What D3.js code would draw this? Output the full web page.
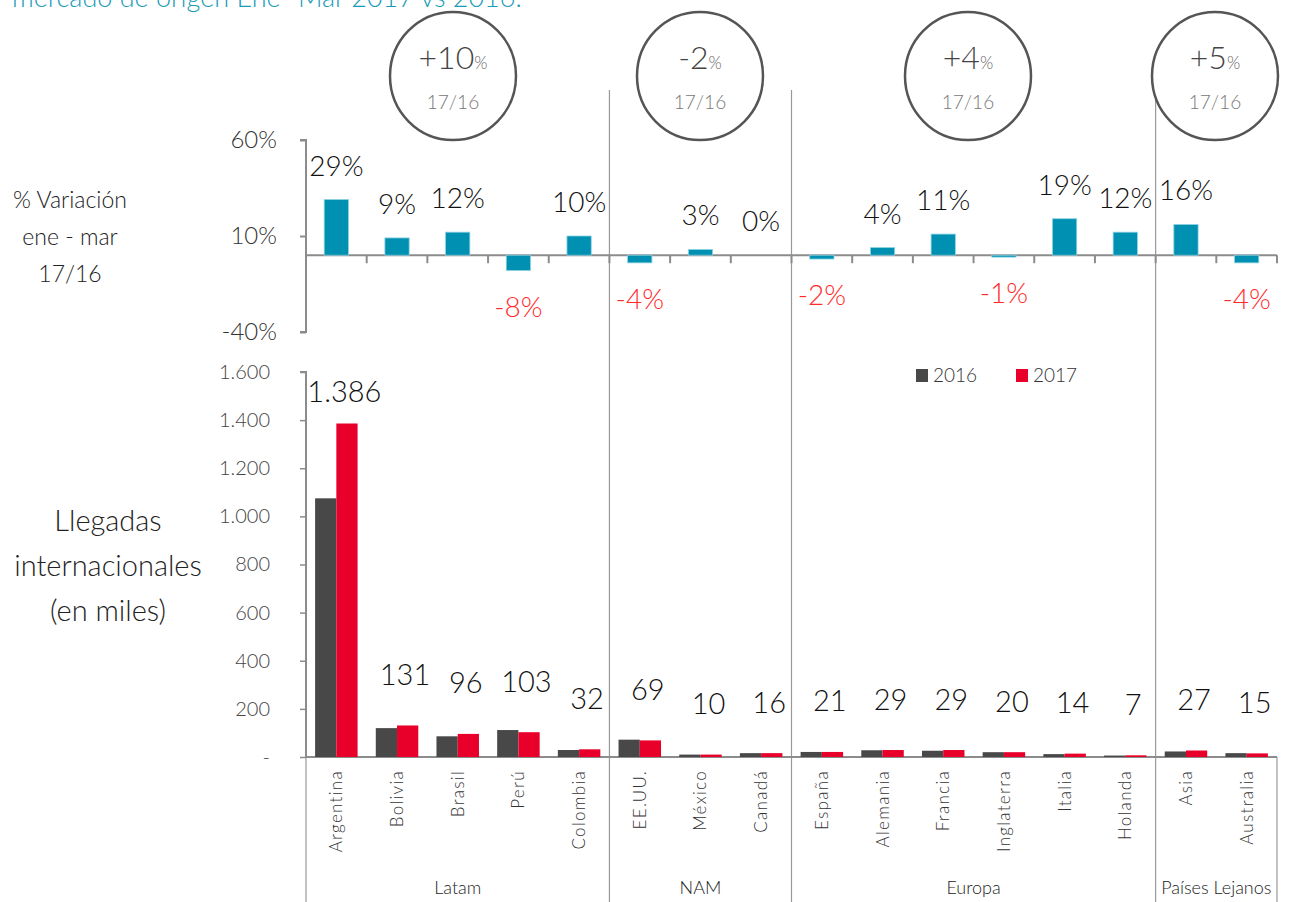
<!DOCTYPE html>
<html><head><meta charset="utf-8">
<script src="https://cdn.jsdelivr.net/npm/d3@7"></script>
<style>
body{margin:0;background:#fff;}
svg{display:block;font-family:Lato,"Open Sans",sans-serif;font-weight:300;}
</style></head>
<body><svg id="c" width="1293" height="902"></svg>
<script>
const categories=["Argentina","Bolivia","Brasil","Perú","Colombia","EE.UU.","México","Canadá","España","Alemania","Francia","Inglaterra","Italia","Holanda","Asia","Australia"];
const groupNames=["Latam","NAM","Europa","Países Lejanos"];
const groupSizes=[5,3,6,2];
const groupVar=["+10","-2","+4","+5"];
const variation=[29,9,12,-8,10,-4,3,0,-2,4,11,-1,19,12,16,-4];
const arrivals2016=[1075,120,86,112,29,72,10,16,21,28,26,20,12,6,23,16];
const arrivals2017=[1386,131,96,103,32,69,10,16,21,29,29,20,14,7,27,15];
const varTicks=[60,10,-40];
const arrTicks=[0,200,400,600,800,1000,1200,1400,1600];
const seriesNames=["2016","2017"];

const svg=d3.select("#c");
const L=306,R=1277;
const x=d3.scaleBand().domain(categories).range([L,R]).padding(0);
const step=x.bandwidth();
const yv=d3.scaleLinear().domain([-40,60]).range([332,140]);
const ya=d3.scaleLinear().domain([0,1600]).range([757,372]);
const axisCol="#8c8c8c";

// title (cut off at top, as in the reference)
svg.append("text").attr("x",12).attr("y",7).attr("font-size",27).attr("fill","#1a9bb7")
  .text("mercado de origen Ene- Mar 2017 vs 2016.");

// group boundaries
let cum=[0];groupSizes.forEach(s=>cum.push(cum[cum.length-1]+s));
const bx=i=>i<categories.length?x(categories[i]):R;
cum.slice(1,-1).forEach(i=>{
  svg.append("line").attr("x1",bx(i)).attr("x2",bx(i)).attr("y1",90).attr("y2",902)
    .attr("stroke","#999").attr("stroke-width",1.2);
});
[0,cum.length-1].forEach(k=>{
  const i=cum[k];
  svg.append("line").attr("x1",bx(i)).attr("x2",bx(i)).attr("y1",757).attr("y2",902)
    .attr("stroke","#999").attr("stroke-width",1.2);
});

// circles
groupNames.forEach((g,k)=>{
  const cx=[453,700,968,1215][k];
  const gg=svg.append("g");
  gg.append("ellipse").attr("cx",cx).attr("cy",76).attr("rx",63).attr("ry",64)
    .attr("fill","#fff").attr("stroke","#555").attr("stroke-width",2.5);
  const t=gg.append("text").attr("x",cx).attr("y",69).attr("text-anchor","middle").attr("fill","#444");
  t.append("tspan").attr("font-size",32).text(groupVar[k]);
  t.append("tspan").attr("font-size",17).attr("fill","#666").text("%");
  gg.append("text").attr("x",cx).attr("y",109).attr("text-anchor","middle").attr("font-size",19)
    .attr("fill","#777").text("17/16");
});

// ---------- top chart ----------
const topAxis=d3.axisLeft(yv).tickValues(varTicks).tickSize(6).tickFormat(d=>d+"%");
const ta=svg.append("g").attr("transform",`translate(${L},0)`).call(topAxis);
ta.select(".domain").attr("stroke",axisCol).attr("stroke-width",2).attr("d",`M-6,${yv(60)}H0V${yv(-40)}H-6`);
ta.selectAll(".tick line").attr("stroke",axisCol).attr("stroke-width",2);
ta.selectAll(".tick text").attr("font-size",24).attr("fill","#333").attr("x",-29)
  .attr("font-family","Lato").attr("font-weight",300);

svg.append("line").attr("x1",L).attr("x2",R).attr("y1",yv(0)).attr("y2",yv(0)).attr("stroke",axisCol).attr("stroke-width",2);
d3.range(categories.length+1).forEach(i=>{
  svg.append("line").attr("x1",bx(i)).attr("x2",bx(i)).attr("y1",yv(0)).attr("y2",yv(0)+8)
    .attr("stroke",axisCol).attr("stroke-width",2);
});
const bwT=step*0.4;
svg.append("g").selectAll("rect").data(categories).join("rect")
  .attr("x",d=>x(d)+(step-bwT)/2).attr("width",bwT)
  .attr("y",(d,i)=>Math.min(yv(variation[i]),yv(0)))
  .attr("height",(d,i)=>Math.abs(yv(variation[i])-yv(0)))
  .attr("fill","#0090b2").attr("stroke","#8fd3e3").attr("stroke-width",0.8);
svg.append("g").selectAll("text").data(categories).join("text")
  .attr("x",d=>x(d)+step/2).attr("text-anchor","middle").attr("font-size",28)
  .attr("dominant-baseline","central")
  .attr("y",(d,i)=>variation[i]>=0?yv(variation[i])-35:yv(variation[i])+35)
  .attr("fill",(d,i)=>variation[i]<0?"#ff2b2b":"#111")
  .text((d,i)=>variation[i]+"%");

const lt=svg.append("text").attr("text-anchor","middle").attr("font-size",23).attr("fill","#222");
["% Variación","ene - mar","17/16"].forEach((s,i)=>lt.append("tspan").attr("x",70).attr("y",208+i*37).text(s));

// ---------- bottom chart ----------
const fmt=d=>d===0?"-":d3.format(",")(d).replace(/,/g,".");
const botAxis=d3.axisLeft(ya).tickValues(arrTicks).tickSize(6).tickFormat(fmt);
const ba=svg.append("g").attr("transform",`translate(${L},0)`).call(botAxis);
ba.select(".domain").attr("stroke",axisCol).attr("stroke-width",2).attr("d",`M-6,${ya(1600)}H0V${ya(0)}`);
ba.selectAll(".tick line").attr("stroke",axisCol).attr("stroke-width",1.5);
ba.selectAll(".tick text").attr("font-size",20).attr("fill","#444").attr("x",-36)
  .attr("font-family","Lato").attr("font-weight",300);
svg.append("line").attr("x1",L).attr("x2",R).attr("y1",ya(0)).attr("y2",ya(0)).attr("stroke",axisCol).attr("stroke-width",2);

const bw=step*0.35;
const colors=["#484848","#e8002a"];
[arrivals2016,arrivals2017].forEach((arr,s)=>{
  svg.append("g").selectAll("rect").data(categories).join("rect")
    .attr("x",d=>x(d)+step/2-bw+s*bw).attr("width",bw)
    .attr("y",(d,i)=>ya(arr[i])).attr("height",(d,i)=>ya(0)-ya(arr[i]))
    .attr("fill",colors[s]);
});
svg.append("g").selectAll("text").data(categories).join("text")
  .attr("x",d=>x(d)+step/2+8).attr("text-anchor","middle").attr("font-size",29)
  .attr("dominant-baseline","central").attr("fill","#111")
  .attr("y",(d,i)=>Math.max(ya(arrivals2017[i])-52,390))
  .text((d,i)=>fmt(arrivals2017[i]));

seriesNames.forEach((n,i)=>{
  const lx=916+i*100;
  svg.append("rect").attr("x",lx).attr("y",369).attr("width",12).attr("height",13).attr("fill",colors[i]);
  svg.append("text").attr("x",lx+17).attr("y",382).attr("font-size",19).attr("fill","#333").text(n);
});

svg.append("g").selectAll("text").data(categories).join("text")
  .attr("transform",d=>`translate(${x(d)+step/2+6},770) rotate(-90)`)
  .attr("text-anchor","end").attr("font-size",17).attr("letter-spacing",1.3).attr("fill","#333")
  .text(d=>d);

groupNames.forEach((g,k)=>{
  const cx=(bx(cum[k])+bx(cum[k+1]))/2;
  svg.append("text").attr("x",cx).attr("y",894).attr("text-anchor","middle").attr("font-size",18)
    .attr("fill","#222").text(g);
});

const lb=svg.append("text").attr("text-anchor","middle").attr("font-size",29).attr("fill","#222");
["Llegadas","internacionales","(en miles)"].forEach((s,i)=>lb.append("tspan").attr("x",108).attr("y",531+i*45).text(s));
</script></body></html>
